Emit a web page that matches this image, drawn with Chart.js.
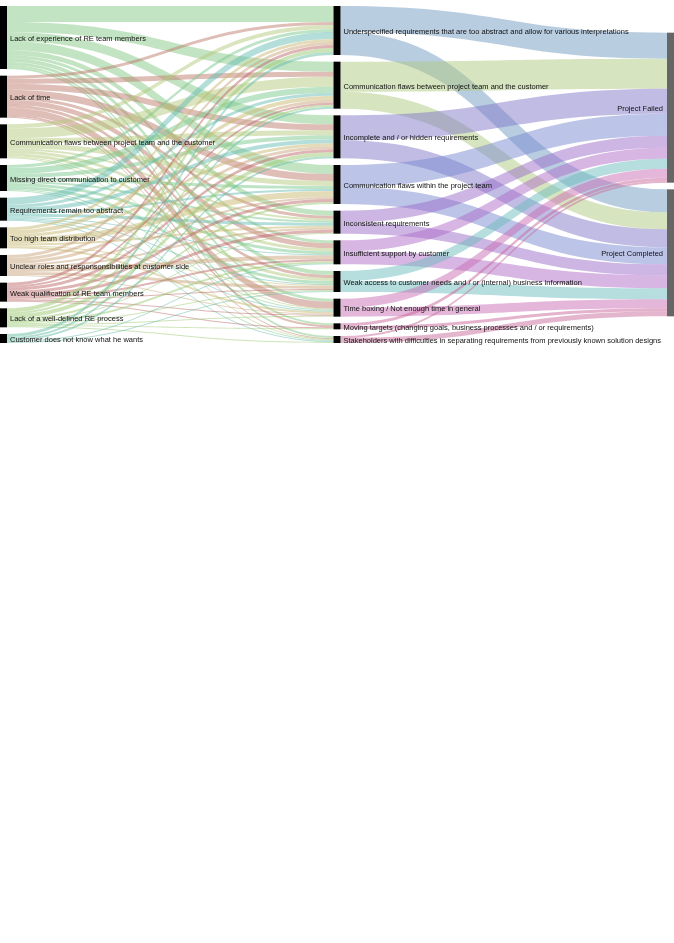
<!DOCTYPE html>
<html lang="en">
<head>
<meta charset="UTF-8">
<title>RE causes, problems and project outcome</title>
<script src="https://cdn.jsdelivr.net/npm/chart.js"></script>
<style>
  body { margin: 0; background: #fff; }
</style>
</head>
<body>
<canvas id="sankey" width="674" height="350"></canvas>
<script>
const causes = [
  "Lack of experience of RE team members",
  "Lack of time",
  "Communication flaws between project team and the customer",
  "Missing direct communication to customer",
  "Requirements remain too abstract",
  "Too high team distribution",
  "Unclear roles and responsonsibilities at customer side",
  "Weak qualification of RE team members",
  "Lack of a well-defined RE process",
  "Customer does not know what he wants"
];
const problems = [
  "Underspecified requirements that are too abstract and allow for various interpretations",
  "Communication flaws between project team and the customer",
  "Incomplete and / or hidden requirements",
  "Communication flaws within the project team",
  "Inconsistent requirements",
  "Insufficient support by customer",
  "Weak access to customer needs and / or (internal) business information",
  "Time boxing / Not enough time in general",
  "Moving targets (changing goals, business processes and / or requirements)",
  "Stakeholders with difficulties in separating requirements from previously known solution designs"
];
const outcomes = ["Project Failed", "Project Completed"];

// rows = causes, columns = problems
const causeToProblem = [
  [16, 10, 9, 9, 5, 3, 4, 3, 2, 2],
  [3, 5, 6, 7, 3, 5, 3, 7, 2, 1],
  [4, 10, 5, 5, 2, 3, 3, 1, 0, 1],
  [3, 6, 4, 3, 2, 3, 3, 1, 0, 1],
  [7, 3, 4, 2, 3, 1, 1, 1, 0, 1],
  [3, 4, 3, 6, 2, 0, 1, 2, 0, 0],
  [3, 3, 3, 2, 2, 4, 3, 1, 0, 0],
  [3, 2, 3, 3, 3, 2, 1, 1, 1, 0],
  [4, 2, 4, 2, 1, 2, 1, 1, 1, 1],
  [3, 2, 2, 0, 0, 1, 1, 0, 0, 0]
];
// rows = problems, columns = outcomes
const problemToOutcome = [
  [26, 23], [30, 17], [25, 18], [22, 17], [12, 11],
  [11, 13], [10, 11], [9, 9], [3, 3], [2, 5]
];

const causeColors = ["#87c987", "#bd7d6d", "#b5c97d", "#7dc991", "#69bdb5",
  "#c9b973", "#c9a57d", "#bd6969", "#9bc973", "#69bda5"];
const problemColors = ["#739bc3", "#afc981", "#8179c9", "#7989d1", "#9b6dc9",
  "#af6dc9", "#6dbdbd", "#c96db5", "#c9659b", "#c96d9b"];

const Y_MAX = 337;

function sum(a) { return a.reduce((s, v) => s + v, 0); }

function stack(values, pad) {
  const total = sum(values) + pad * (values.length - 1);
  let y = (Y_MAX - total) / 2;
  return values.map(v => { const n = { y0: y, y1: y + v }; y += v + pad; return n; });
}

const causeTotals = causeToProblem.map(r => sum(r));
const problemTotals = problemToOutcome.map(r => sum(r));
const outcomeTotals = outcomes.map((_, j) => sum(problemToOutcome.map(r => r[j])));
const pad = (Y_MAX - sum(causeTotals)) / (causes.length - 1);

const sankeyPlugin = {
  id: 'sankey',
  afterDraw(chart) {
    const { ctx, scales: { x, y } } = chart;
    const nodeW = 7;
    const cols = [stack(causeTotals, pad), stack(problemTotals, pad), stack(outcomeTotals, pad)];

    function links(matrix, src, dst, colors, colIdx) {
      const outOff = src.map(n => n.y0);
      const inOff = dst.map(n => n.y0);
      const x0 = x.getPixelForValue(colIdx) + nodeW;
      const x1 = x.getPixelForValue(colIdx + 1);
      const xm = (x0 + x1) / 2;
      matrix.forEach((row, i) => {
        row.forEach((v, j) => {
          if (!v) return;
          const a0 = y.getPixelForValue(outOff[i]), a1 = y.getPixelForValue(outOff[i] + v);
          const b0 = y.getPixelForValue(inOff[j]), b1 = y.getPixelForValue(inOff[j] + v);
          outOff[i] += v; inOff[j] += v;
          ctx.beginPath();
          ctx.moveTo(x0, a0);
          ctx.bezierCurveTo(xm, a0, xm, b0, x1, b0);
          ctx.lineTo(x1, b1);
          ctx.bezierCurveTo(xm, b1, xm, a1, x0, a1);
          ctx.closePath();
          ctx.fillStyle = colors[i];
          ctx.fill();
        });
      });
    }

    ctx.save();
    ctx.globalAlpha = 0.5;
    links(causeToProblem, cols[0], cols[1], causeColors, 0);
    links(problemToOutcome, cols[1], cols[2], problemColors, 1);
    ctx.globalAlpha = 1;

    const nodeColors = ['#000', '#000', '#666'];
    const labels = [causes, problems, outcomes];
    ctx.font = '7.5px "Liberation Sans", Arial, sans-serif';
    ctx.textBaseline = 'middle';
    cols.forEach((col, c) => {
      const px = x.getPixelForValue(c);
      col.forEach((n, k) => {
        const top = y.getPixelForValue(n.y0), bot = y.getPixelForValue(n.y1);
        ctx.fillStyle = nodeColors[c];
        ctx.fillRect(px, top, nodeW, bot - top);
        ctx.fillStyle = '#111';
        const ty = (top + bot) / 2 + 1.5;
        if (c === 2) {
          ctx.textAlign = 'right';
          ctx.fillText(labels[c][k], px - 4, ty);
        } else {
          ctx.textAlign = 'left';
          ctx.fillText(labels[c][k], px + nodeW + 3, ty);
        }
      });
    });
    ctx.restore();
  }
};

new Chart(document.getElementById('sankey'), {
  type: 'scatter',
  data: { datasets: [] },
  options: {
    responsive: false,
    animation: false,
    layout: { padding: { left: 0, right: 7, top: 6, bottom: 7 } },
    plugins: { legend: { display: false }, tooltip: { enabled: false } },
    scales: {
      x: { type: 'linear', min: 0, max: 2, display: false },
      y: { type: 'linear', min: 0, max: Y_MAX, reverse: true, display: false }
    }
  },
  plugins: [sankeyPlugin]
});
</script>
</body>
</html>
